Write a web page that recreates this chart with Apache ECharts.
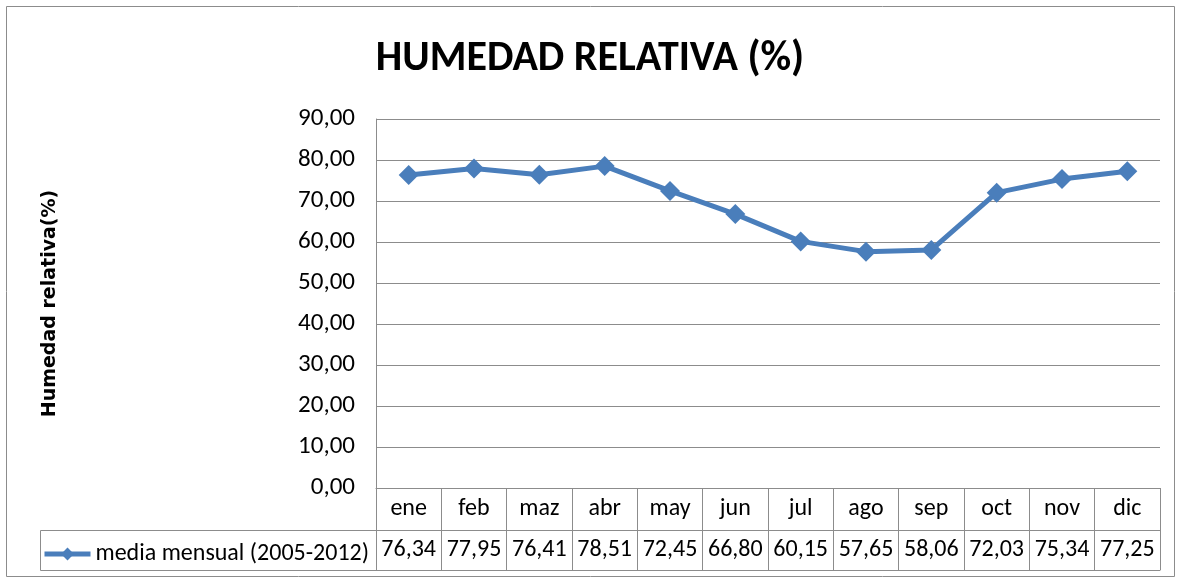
<!DOCTYPE html>
<html>
<head>
<meta charset="utf-8">
<script src="https://cdn.jsdelivr.net/npm/echarts@6/dist/echarts.min.js"></script>
<style>
  html, body { margin: 0; padding: 0; background: #fff; }
  #chart { width: 1180px; height: 580px; }
</style>
</head>
<body>
<div id="chart"></div>
<script>
// datos mensuales
const meses = ['ene', 'feb', 'maz', 'abr', 'may', 'jun', 'jul', 'ago', 'sep', 'oct', 'nov', 'dic']
const mediaMensual = [76.34, 77.95, 76.41, 78.51, 72.45, 66.80, 60.15, 57.65, 58.06, 72.03, 75.34, 77.25]
const serieNombre = 'media mensual (2005-2012)'

const FONT = 'Carlito, "Liberation Sans Narrow", "Open Sans", sans-serif'
const GRIS = '#8c8c8c'
const AZUL = '#4a7ebb'
const coma = v => v.toFixed(2).replace('.', ',')

const chart = echarts.init(document.getElementById('chart'))

chart.setOption({
  backgroundColor: '#fff',
  animation: false,
  title: {
    text: 'HUMEDAD RELATIVA (%)',
    left: 'center',
    top: 33,
    textStyle: {
      fontFamily: FONT,
      fontWeight: 'bold',
      fontSize: 42,
      color: '#000'
    }
  },
  legend: {
    left: 37,
    top: 537,
    itemWidth: 46,
    itemHeight: 16,
    itemStyle: { color: AZUL },
    lineStyle: { width: 5, color: AZUL },
    data: [serieNombre],
    textStyle: {
      fontFamily: FONT,
      fontSize: 24,
      color: '#000'
    }
  },
  grid: {
    left: 376,
    right: 20,
    top: 119,
    bottom: 92
  },
  xAxis: [{
    type: 'category',
    data: meses,
    boundaryGap: true,
    axisLine: { lineStyle: { color: GRIS, width: 1 } },
    axisTick: { show: true, interval: 0, length: 82, lineStyle: { color: GRIS } },
    axisLabel: {
      interval: 0,
      margin: 9,
      fontFamily: FONT,
      fontSize: 24,
      color: '#000'
    }
  }, {
    type: 'category',
    data: mediaMensual.map(coma),
    position: 'bottom',
    offset: 42,
    axisLine: { lineStyle: { color: GRIS, width: 1 } },
    axisTick: { show: false },
    axisLabel: {
      interval: 0,
      margin: 8,
      fontFamily: FONT,
      fontSize: 24,
      color: '#000'
    }
  }, {
    type: 'category',
    data: meses,
    position: 'bottom',
    offset: 82,
    axisLine: { lineStyle: { color: GRIS, width: 1 } },
    axisTick: { show: false },
    axisLabel: { show: false }
  }],
  yAxis: {
    type: 'value',
    min: 0,
    max: 90,
    interval: 10,
    name: 'Humedad relativa(%)',
    nameLocation: 'middle',
    nameGap: 316,
    nameTextStyle: {
      fontFamily: '"DejaVu Sans", Verdana, sans-serif',
      fontWeight: 'bold',
      fontSize: 19,
      color: '#000'
    },
    axisLine: { show: true, lineStyle: { color: GRIS } },
    axisTick: { show: false },
    splitLine: { lineStyle: { color: GRIS } },
    axisLabel: {
      margin: 21,
      fontFamily: FONT,
      fontSize: 25,
      color: '#000',
      formatter: coma
    }
  },
  graphic: [{
    type: 'rect',
    shape: { x: 6.5, y: 6.5, width: 1168, height: 570 },
    style: { fill: 'none', stroke: GRIS, lineWidth: 1 },
    silent: true
  }, {
    type: 'rect',
    shape: { x: 40.5, y: 530.5, width: 336, height: 40 },
    style: { fill: 'none', stroke: GRIS, lineWidth: 1 },
    silent: true
  }],
  series: [{
    name: serieNombre,
    type: 'line',
    data: mediaMensual,
    symbol: 'diamond',
    symbolSize: 20,
    lineStyle: { width: 5, color: AZUL },
    itemStyle: { color: AZUL }
  }]
})
</script>
</body>
</html>
